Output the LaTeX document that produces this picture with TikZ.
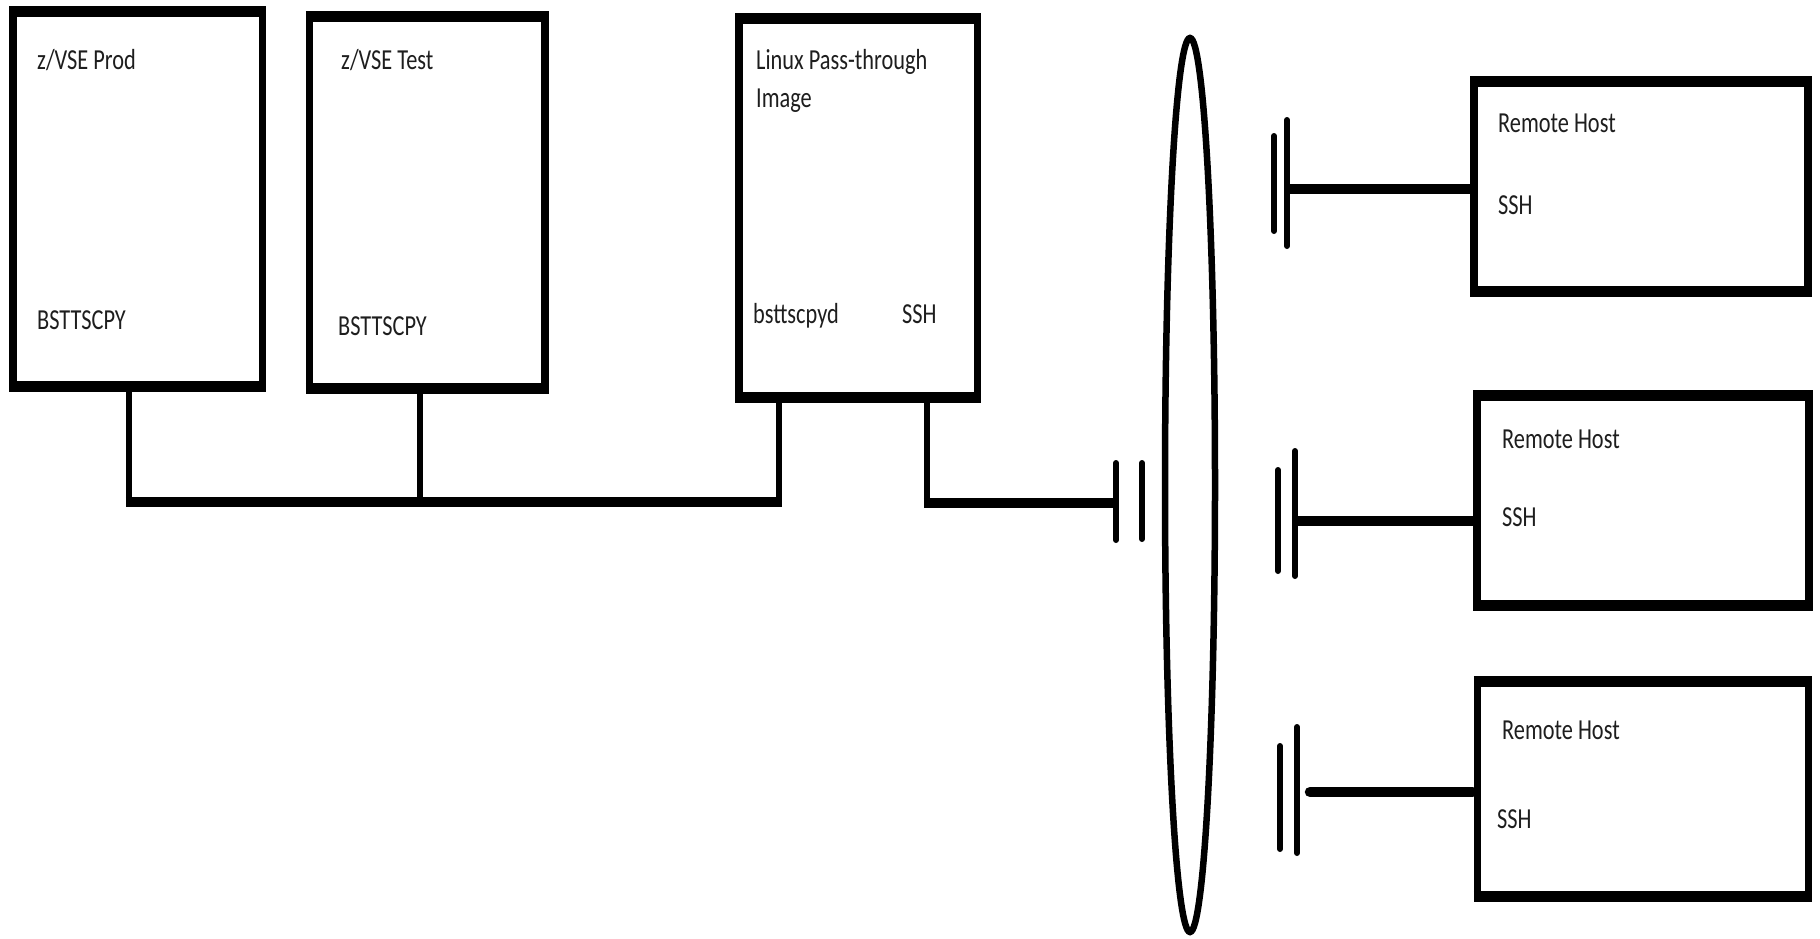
\documentclass[tikz,border=0pt]{standalone}
\usepackage{fontspec}
\usetikzlibrary{shapes.geometric}
\newfontfamily\lbfont[FakeStretch=0.77]{Carlito}
\definecolor{txt}{HTML}{1E1E1E}
\begin{document}
\begin{tikzpicture}[x=1pt,y=-1pt,
  box/.style={draw, line width=7.5pt, outer sep=0pt, inner sep=0pt, anchor=north west},
  boxh/.style={line width=11pt},
  vline/.style={line width=6.5pt},
  hline/.style={line width=10.5pt},
  bar/.style={line width=6pt, line cap=round},
  lbl/.style={anchor=base west, inner sep=0pt, text=txt, font=\lbfont\fontsize{29pt}{38pt}\selectfont},
  net/.style={draw, ellipse, line width=6.5pt, inner sep=0pt, outer sep=0pt}]
\fill[white] (0,0) rectangle (1820,938);
\useasboundingbox (0,0) rectangle (1820,938);

% boxes
\node[box, minimum width=249.5pt, minimum height=375pt] (b1) at (13,11.5) {};
\node[box, minimum width=235.5pt, minimum height=372pt] (b2) at (309.5,16.5) {};
\node[box, minimum width=238.5pt, minimum height=379.5pt] (b3) at (739,18) {};
\node[box, minimum width=334pt, minimum height=210pt] (h1) at (1474,81) {};
\node[box, minimum width=332pt, minimum height=209.5pt] (h2) at (1477,395.5) {};
\node[box, minimum width=331pt, minimum height=215pt] (h3) at (1477.5,681) {};
\foreach \n in {b1,b2,b3,h1,h2,h3}{
  \draw[boxh] ([xshift=-3.75pt]\n.north west) -- ([xshift=3.75pt]\n.north east);
  \draw[boxh] ([xshift=-3.75pt]\n.south west) -- ([xshift=3.75pt]\n.south east);
}

% labels
\node[lbl] (b1a) at (37,69) {z/VSE Prod};
\node[lbl] (b1b) at (37,329) {BSTTSCPY};
\node[lbl] (b2a) at (341,69) {z/VSE Test};
\node[lbl] (b2b) at (338,335) {BSTTSCPY};
\node[lbl] (b3a) at (756,69) {Linux Pass-through};
\node[lbl] (b3b) at (756,107) {Image};
\node[lbl] (b3c) at (753,323) {bsttscpyd};
\node[lbl] (b3d) at (902,323) {SSH};
\node[lbl] (h1a) at (1498,132) {Remote Host};
\node[lbl] (h1b) at (1498,214) {SSH};
\node[lbl] (h2a) at (1502,448) {Remote Host};
\node[lbl] (h2b) at (1502,526) {SSH};
\node[lbl] (h3a) at (1502,739) {Remote Host};
\node[lbl] (h3b) at (1497,828) {SSH};

% network ellipse
\node[net, minimum width=50pt, minimum height=894pt] (lan) at (1190,485) {};

% bus between the z/VSE images and Linux image
\coordinate (j1) at (129,502);
\coordinate (j2) at (420,502);
\coordinate (j3) at (779,502);
\draw[vline] (b1.south -| j1) -- ([yshift=-5.25pt]j1);
\draw[vline] (b2.south -| j2) -- (j2);
\draw[vline] (b3.south -| j3) -- ([yshift=-5.25pt]j3);
\draw[hline] ([xshift=-3.25pt]j1) -- ([xshift=3.25pt]j3);

% Linux SSH to network
\coordinate (k) at (927,503);
\coordinate (p1) at (1116,501.5);
\coordinate (p2) at (1142,501);
\draw[vline] (b3.south -| k) -- ([yshift=-5.25pt]k);
\draw[hline] ([xshift=-3.25pt]k) -- (k -| p1);
\draw[bar] ([yshift=-38.5pt]p1) -- ([yshift=38.5pt]p1);
\draw[bar] ([yshift=-38pt]p2) -- ([yshift=38pt]p2);

% remote host 1
\coordinate (r1a) at (1274,183.5);
\coordinate (r1b) at (1287,183);
\draw[bar] ([yshift=-47.5pt]r1a) -- ([yshift=47.5pt]r1a);
\draw[bar] ([yshift=-63pt]r1b) -- ([yshift=63pt]r1b);
\draw[hline] (r1b |- 0,189) -- (h1.west |- 0,189);

% remote host 2
\coordinate (r2a) at (1278,520.5);
\coordinate (r2b) at (1295,513.5);
\draw[bar] ([yshift=-50.5pt]r2a) -- ([yshift=50.5pt]r2a);
\draw[bar] ([yshift=-62.5pt]r2b) -- ([yshift=62.5pt]r2b);
\draw[hline] (r2b |- 0,521) -- (h2.west |- 0,521);

% remote host 3
\coordinate (r3a) at (1280,797.5);
\coordinate (r3b) at (1297,790);
\coordinate (r3c) at (1310,792);
\draw[bar] ([yshift=-51.5pt]r3a) -- ([yshift=51.5pt]r3a);
\draw[bar] ([yshift=-63pt]r3b) -- ([yshift=63pt]r3b);
\draw[hline, line cap=round] (r3c) -- ([xshift=-5pt]h3.west |- r3c);
\end{tikzpicture}
\end{document}
